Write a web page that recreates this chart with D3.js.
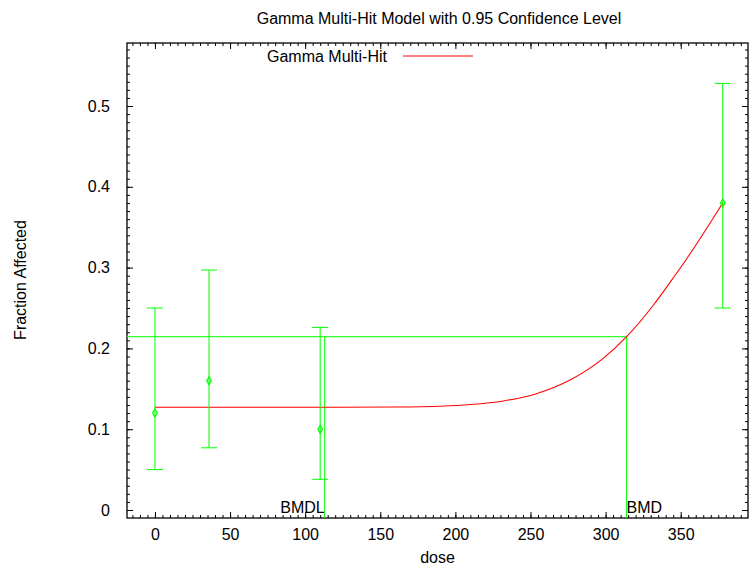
<!DOCTYPE html>
<html>
<head>
<meta charset="utf-8">
<script src="https://cdn.jsdelivr.net/npm/d3@7"></script>
<style>
  body { margin: 0; background: #fff; }
  text { font-family: "Liberation Sans", Arial, sans-serif; fill: #000; }
</style>
</head>
<body>
<div id="chart"></div>
<script>
// observed data: dose groups, fraction affected and 95% limits
var doses = [0, 36, 110, 378];
var fractions = [0.12, 0.16, 0.10, 0.38];
var lowerCI = [0.050, 0.077, 0.038, 0.250];
var upperCI = [0.250, 0.297, 0.226, 0.528];

// fitted gamma multi-hit curve
var curveDose = [0, 60, 120, 160, 190, 210, 232, 254, 276, 298, 314, 332, 343, 354, 365, 378];
var curveFrac = [0.1272, 0.1272, 0.1272, 0.1275, 0.1285, 0.1305, 0.1350, 0.1440, 0.1605, 0.1870, 0.2145, 0.2540, 0.2820, 0.3110, 0.3420, 0.3800];

var bmd = 314;
var bmdl = 113;
var bmdResponse = 0.2145;

var xTicks = [0, 50, 100, 150, 200, 250, 300, 350];
var yTicks = [0, 0.1, 0.2, 0.3, 0.4, 0.5];
var xMinor = d3.range(-15, 395, 5);
var yMinor = d3.range(0, 58).map(function(i) { return i / 100; });

var svgWidth = 750;
var svgHeight = 565;
var fontSize = "16px";

var margin = {
  top: 43,
  right: 2,
  bottom: 47,
  left: 127
};

var width = svgWidth - margin.left - margin.right;
var height = svgHeight - margin.top - margin.bottom;

var svg = d3.select("#chart")
  .append("svg")
  .attr("width", svgWidth)
  .attr("height", svgHeight);

var chartGroup = svg.append("g")
  .attr("transform", `translate(${margin.left}, ${margin.top})`);

var xScale = d3.scaleLinear()
  .domain([-18.6, 394.8])
  .range([0, width]);

var yScale = d3.scaleLinear()
  .domain([-0.0099, 0.578])
  .range([height, 0]);

var green = "#00ff00";

// minor ticks on all four sides
chartGroup.append("g")
  .attr("transform", `translate(0, ${height})`)
  .call(d3.axisBottom(xScale).tickValues(xMinor).tickSize(-3).tickFormat(""));
chartGroup.append("g")
  .call(d3.axisTop(xScale).tickValues(xMinor).tickSize(-3).tickFormat(""));
chartGroup.append("g")
  .call(d3.axisLeft(yScale).tickValues(yMinor).tickSize(-3).tickFormat(""));
chartGroup.append("g")
  .attr("transform", `translate(${width}, 0)`)
  .call(d3.axisRight(yScale).tickValues(yMinor).tickSize(-3).tickFormat(""));

// major ticks
var xAxis = chartGroup.append("g")
  .attr("transform", `translate(0, ${height})`)
  .call(d3.axisBottom(xScale).tickValues(xTicks).tickSize(-6).tickPadding(11));
chartGroup.append("g")
  .call(d3.axisTop(xScale).tickValues(xTicks).tickSize(-6).tickFormat(""));
var yAxis = chartGroup.append("g")
  .call(d3.axisLeft(yScale).tickValues(yTicks).tickSize(-6).tickPadding(17)
    .tickFormat(function(d) { return d === 0 ? "0" : d3.format(".1f")(d); }));
chartGroup.append("g")
  .attr("transform", `translate(${width}, 0)`)
  .call(d3.axisRight(yScale).tickValues(yTicks).tickSize(-6).tickFormat(""));

chartGroup.selectAll(".domain").remove();
chartGroup.selectAll(".tick line").attr("stroke", "#000");
chartGroup.selectAll(".tick text")
  .style("font-size", fontSize)
  .style("font-family", "'Liberation Sans', Arial, sans-serif");

// frame
chartGroup.append("rect")
  .attr("x", 0)
  .attr("y", 0)
  .attr("width", width)
  .attr("height", height)
  .attr("fill", "none")
  .attr("stroke", "#000")
  .attr("stroke-width", 1.3);

// BMD / BMDL guide lines
chartGroup.append("line")
  .attr("x1", 0)
  .attr("x2", xScale(bmd))
  .attr("y1", yScale(bmdResponse))
  .attr("y2", yScale(bmdResponse))
  .attr("stroke", green);
chartGroup.append("line")
  .attr("x1", xScale(bmdl))
  .attr("x2", xScale(bmdl))
  .attr("y1", yScale(bmdResponse))
  .attr("y2", height)
  .attr("stroke", green);
chartGroup.append("line")
  .attr("x1", xScale(bmd))
  .attr("x2", xScale(bmd))
  .attr("y1", yScale(bmdResponse))
  .attr("y2", height)
  .attr("stroke", green);

chartGroup.append("text")
  .attr("x", xScale(bmdl))
  .attr("y", yScale(0) + 3)
  .attr("text-anchor", "end")
  .style("font-size", fontSize)
  .text("BMDL");
chartGroup.append("text")
  .attr("x", xScale(bmd))
  .attr("y", yScale(0) + 3)
  .attr("text-anchor", "start")
  .style("font-size", fontSize)
  .text("BMD");

// model curve
var line = d3.line()
  .x(function(d, i) { return xScale(curveDose[i]); })
  .y(function(d, i) { return yScale(curveFrac[i]); })
  .curve(d3.curveMonotoneX);

chartGroup.append("path")
  .attr("d", line(curveDose))
  .attr("fill", "none")
  .attr("stroke", "#ff0000")
  .attr("stroke-width", 1.1);

// error bars
var barsGroup = chartGroup.selectAll("g.bar")
  .data(doses)
  .enter()
  .append("g")
  .classed("bar", true);

barsGroup.append("line")
  .attr("x1", d => xScale(d))
  .attr("x2", d => xScale(d))
  .attr("y1", (d, i) => yScale(lowerCI[i]))
  .attr("y2", (d, i) => yScale(upperCI[i]))
  .attr("stroke", green);
barsGroup.append("line")
  .attr("x1", d => xScale(d) - 8)
  .attr("x2", d => xScale(d) + 8)
  .attr("y1", (d, i) => yScale(lowerCI[i]))
  .attr("y2", (d, i) => yScale(lowerCI[i]))
  .attr("stroke", green);
barsGroup.append("line")
  .attr("x1", d => xScale(d) - 8)
  .attr("x2", d => xScale(d) + 8)
  .attr("y1", (d, i) => yScale(upperCI[i]))
  .attr("y2", (d, i) => yScale(upperCI[i]))
  .attr("stroke", green);
barsGroup.append("path")
  .attr("d", d3.symbol().type(d3.symbolDiamond).size(18))
  .attr("transform", (d, i) => `translate(${xScale(d)}, ${yScale(fractions[i])})`)
  .attr("fill", "none")
  .attr("stroke", green)
  .attr("stroke-width", 1.3);

// legend
chartGroup.append("text")
  .attr("x", 387 - margin.left)
  .attr("y", 56 - margin.top)
  .attr("dy", "0.35em")
  .attr("text-anchor", "end")
  .style("font-size", fontSize)
  .text("Gamma Multi-Hit");
chartGroup.append("line")
  .attr("x1", 403 - margin.left)
  .attr("x2", 473 - margin.left)
  .attr("y1", 56 - margin.top)
  .attr("y2", 56 - margin.top)
  .attr("stroke", "#ff0000");

// title and axis labels
svg.append("text")
  .attr("x", 439)
  .attr("y", 18)
  .attr("dy", "0.35em")
  .attr("text-anchor", "middle")
  .style("font-size", fontSize)
  .text("Gamma Multi-Hit Model with 0.95 Confidence Level");

svg.append("text")
  .attr("x", margin.left + width / 2)
  .attr("y", 557)
  .attr("dy", "0.35em")
  .attr("text-anchor", "middle")
  .style("font-size", fontSize)
  .text("dose");

svg.append("text")
  .attr("transform", "rotate(-90)")
  .attr("x", -280)
  .attr("y", 20)
  .attr("dy", "0.35em")
  .attr("text-anchor", "middle")
  .style("font-size", fontSize)
  .text("Fraction Affected");
</script>
</body>
</html>
